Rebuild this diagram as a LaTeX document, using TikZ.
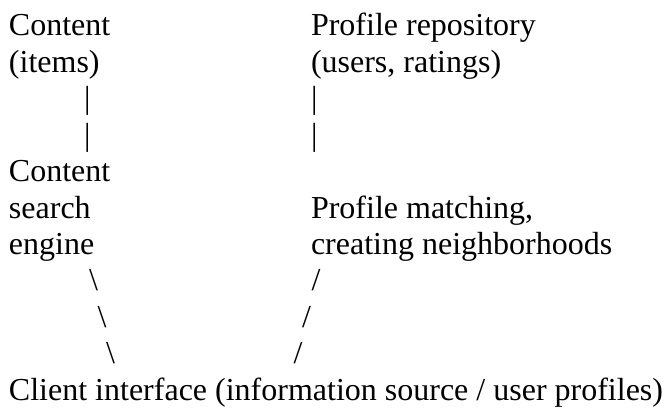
\documentclass[tikz,border=0pt]{standalone}
\usepackage{fontspec}
\setmainfont{Liberation Serif}
\usetikzlibrary{positioning}
\tikzset{
  txt/.style={anchor=base west, inner sep=0pt, outer sep=0pt, font=\fontsize{32}{36}\selectfont},
  lnk/.style={txt},
}

\begin{document}
\begin{tikzpicture}[x=1pt, y=-1pt]
\useasboundingbox (0,0) rectangle (666,409);
% left column
\node[txt] (cont) at (9,36) {Content};
\node[txt] (items) at (9,72.4) {(items)};
\node[lnk] (la1) at (84,108.8) {|};
\node[lnk] (la2) at (84,145.2) {|};
\node[txt] (eng1) at (9,181.6) {Content};
\node[txt] (eng2) at (9,218) {search};
\node[txt] (eng3) at (9,254.4) {engine};
\node[lnk] (lb1) at (89,290.8) {\textbackslash};
\node[lnk] (lb2) at (97.5,327.2) {\textbackslash};
\node[lnk] (lb3) at (106,363.6) {\textbackslash};
% right column
\node[txt] (prof) at (311,36) {Profile repository};
\node[txt] (users) at (311,72.4) {(users, ratings)};
\node[lnk] (ra1) at (311,108.8) {|};
\node[lnk] (ra2) at (311,145.2) {|};
\node[txt] (match1) at (311,218) {Profile matching,};
\node[txt] (match2) at (311,254.4) {creating neighborhoods};
\node[lnk] (rb1) at (311.5,290.8) {/};
\node[lnk] (rb2) at (302,327.2) {/};
\node[lnk] (rb3) at (293.5,363.6) {/};
% bottom
\node[txt] (client) at (9,400) {Client interface (information source / user profiles)};
\end{tikzpicture}
\end{document}
